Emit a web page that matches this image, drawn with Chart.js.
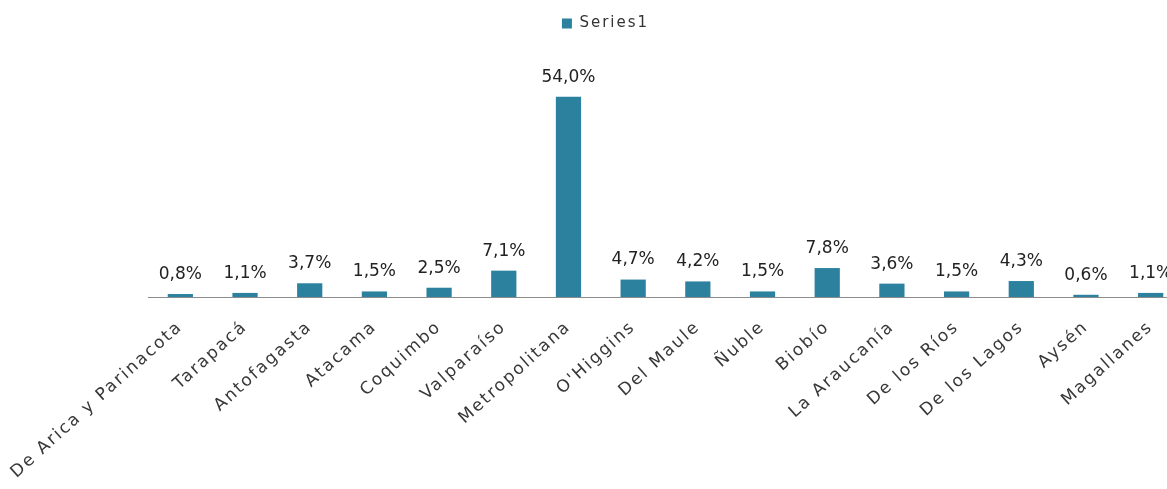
<!DOCTYPE html>
<html>
<head>
<meta charset="utf-8">
<script src="https://cdn.jsdelivr.net/npm/chart.js@4"></script>
<style>
  html, body { margin: 0; padding: 0; background: #fff; overflow: hidden; }
  #wrap { position: relative; width: 1183px; height: 489px; }
</style>
</head>
<body>
<div id="wrap"><canvas id="regionChart"></canvas></div>
<script>
// Regions and share of total (%)
const regions = ['De Arica y Parinacota', 'Tarapacá', 'Antofagasta', 'Atacama', 'Coquimbo', 'Valparaíso',
    'Metropolitana', "O'Higgins", 'Del Maule', 'Ñuble', 'Biobío', 'La Araucanía', 'De los Ríos',
    'De los Lagos', 'Aysén', 'Magallanes'];
const shares = [0.8, 1.1, 3.7, 1.5, 2.5, 7.1, 54.0, 4.7, 4.2, 1.5, 7.8, 3.6, 1.5, 4.3, 0.6, 1.1];
const yMax = 69;

// wider letter spacing for axis labels and legend (also while measuring), reset before the bars
const spacing = {
    id: 'spacing',
    beforeLayout(chart) { chart.ctx.letterSpacing = '2px'; },
    afterLayout(chart) { chart.ctx.letterSpacing = '0px'; },
    beforeDraw(chart) { chart.ctx.letterSpacing = '2px'; },
    beforeDatasetsDraw(chart) { chart.ctx.letterSpacing = '0px'; }
};

// Draw the value over each bar, with comma decimals
const valueLabels = {
    id: 'valueLabels',
    afterDatasetsDraw(chart) {
        const ctx = chart.ctx;
        const meta = chart.getDatasetMeta(0);
        ctx.save();
        ctx.letterSpacing = '0px';
        ctx.font = '17px "DejaVu Sans"';
        ctx.fillStyle = '#222';
        ctx.textAlign = 'center';
        ctx.textBaseline = 'bottom';
        meta.data.forEach(function (bar, i) {
            const txt = shares[i].toFixed(1).replace('.', ',') + '%';
            ctx.fillText(txt, bar.x, bar.y - 11);
        });
        ctx.restore();
    }
};

const config = {
    type: 'bar',
    data: {
        labels: regions,
        datasets: [{
            label: 'Series1',
            data: shares,
            backgroundColor: '#2b819e',
            barPercentage: 0.39,
            categoryPercentage: 1
        }]
    },
    options: {
        responsive: true,
        maintainAspectRatio: false,
        animation: false,
        layout: { padding: { left: 28, right: 0, top: 6, bottom: 0 } },
        plugins: {
            legend: {
                position: 'top',
                labels: {
                    boxWidth: 10,
                    boxHeight: 10,
                    color: '#333',
                    font: { family: 'DejaVu Sans', size: 15 },
                    padding: 10
                }
            },
            tooltip: { enabled: false }
        },
        scales: {
            y: {
                display: false,
                min: 0,
                max: yMax
            },
            x: {
                grid: { display: false },
                border: { display: true, color: '#8c8c8c', width: 1 },
                ticks: {
                    color: '#383838',
                    font: { family: 'DejaVu Sans', size: 17 },
                    minRotation: 42,
                    maxRotation: 42,
                    autoSkip: false,
                    padding: 12
                },
                afterFit: function (s) {
                    s.height = 192;
                    s.paddingLeft = 148;
                    s.paddingRight = 0;
                }
            }
        }
    },
    plugins: [spacing, valueLabels]
};

const ctx = document.getElementById('regionChart').getContext('2d');
new Chart(ctx, config);
</script>
</body>
</html>
